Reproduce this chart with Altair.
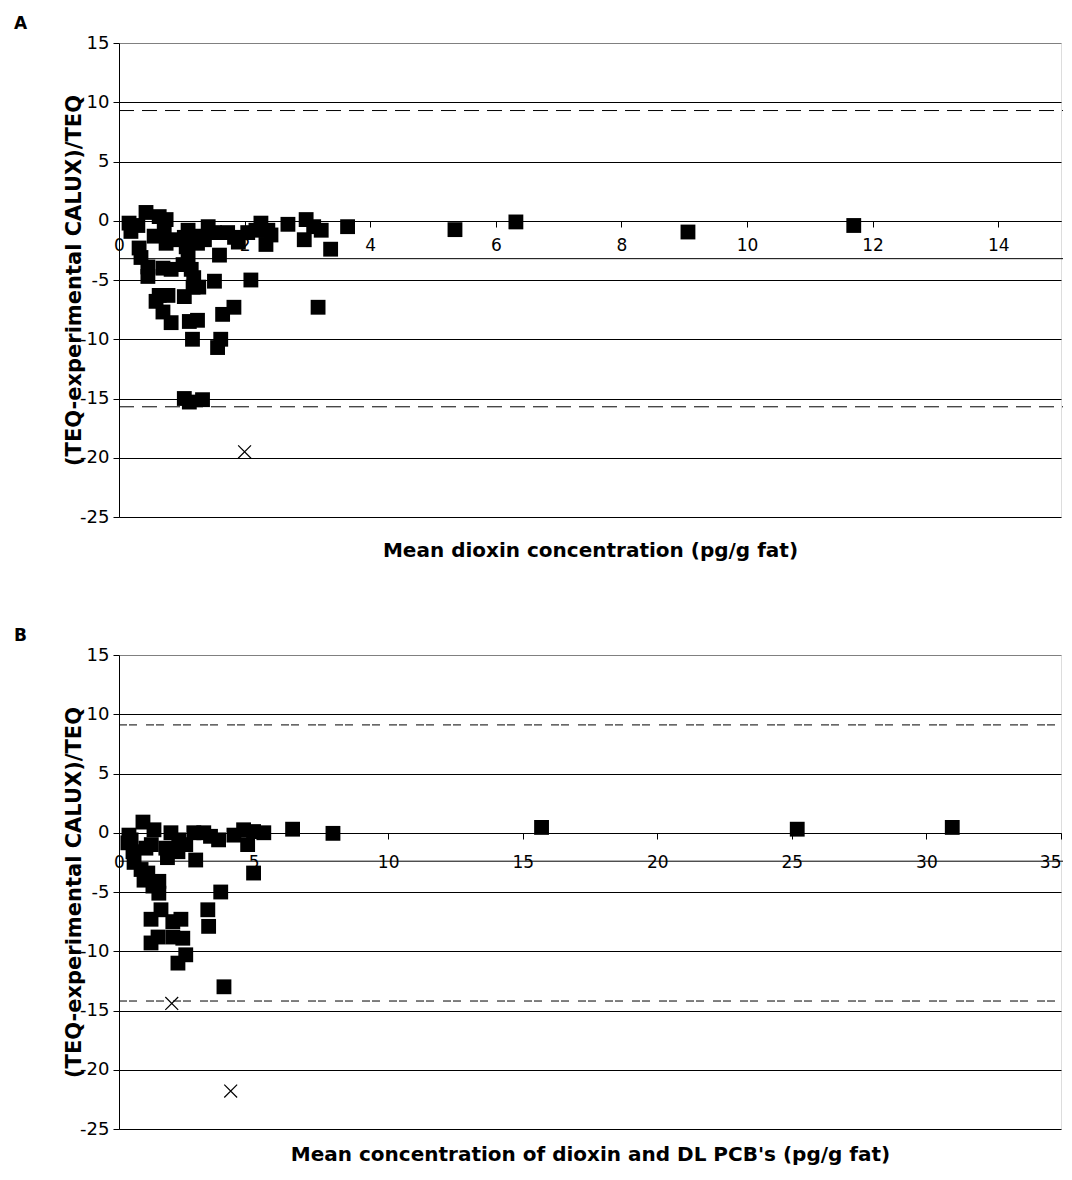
import altair as alt
import pandas as pd

# ---------------- Panel A data ----------------
A_sq_x = [0.16, 0.19, 0.43, 0.64, 0.75, 0.72, 0.56, 0.75, 0.32, 0.35, 0.46, 0.46,
          0.70, 0.83, 1.02, 1.10, 1.04, 1.07, 1.10, 1.15, 1.19, 1.27, 1.18, 0.64,
          0.78, 0.59, 0.70, 0.83, 1.04, 1.12, 1.25, 1.17, 1.57, 1.62, 1.65, 1.83,
          1.52, 2.10, 1.60, 1.42, 1.52, 1.36, 1.25, 1.73, 1.84, 1.90, 2.05, 2.18,
          2.26, 2.37, 2.42, 2.34, 2.69, 2.98, 3.10, 3.22, 2.95, 3.37, 3.64, 3.17,
          1.04, 1.12, 1.33, 5.35, 6.32, 9.06, 11.70, 0.90, 1.20, 0.30]
A_sq_y = [-0.2, -0.9, 0.7, 0.35, 0.1, -0.8, -1.3, -1.9, -2.3, -3.1, -3.9, -4.7,
          -4.0, -4.1, -3.7, -0.8, -1.4, -2.2, -2.9, -4.1, -4.8, -5.6, -5.6, -6.3,
          -6.3, -6.8, -7.7, -8.6, -6.4, -8.5, -8.4, -10.0, -10.7, -10.0, -7.9, -7.3,
          -5.1, -5.0, -2.9, -0.5, -1.0, -1.6, -1.9, -1.0, -1.4, -1.8, -1.0, -0.8,
          -0.2, -0.8, -1.2, -2.0, -0.3, 0.1, -0.5, -0.8, -1.6, -2.4, -0.5, -7.3,
          -15.0, -15.3, -15.1, -0.75, -0.1, -0.95, -0.4, -1.6, -1.3, -0.4]
A_x_x = [2.0]
A_x_y = [-19.5]
A_mean = [-3.2]
A_limits = [9.3, -15.7]
A_ticks = [0, 2, 4, 6, 8, 10, 12, 14]

# ---------------- Panel B data ----------------
B_sq_x = [0.89, 1.30, 0.37, 0.33, 0.52, 1.00, 0.56, 0.82, 0.93, 1.26, 1.48, 1.48,
          1.74, 1.80, 1.93, 2.22, 2.19, 2.48, 2.78, 2.85, 3.15, 3.70, 4.27, 4.63,
          4.78, 5.00, 5.38, 5.00, 3.78, 3.30, 3.33, 1.56, 1.19, 2.00, 2.30, 1.45,
          1.19, 2.00, 2.37, 2.48, 2.19, 3.90, 6.45, 7.95, 15.7, 25.2, 30.96,
          3.40, 1.07, 0.45, 1.20]
B_sq_y = [0.9, 0.25, -0.2, -0.85, -1.6, -1.3, -2.5, -3.1, -4.0, -4.5, -4.1, -5.1,
          -1.3, -2.1, 0.0, -0.6, -1.6, -1.0, 0.0, -2.3, 0.0, -0.6, -0.2, 0.25,
          -1.0, 0.1, 0.0, -3.4, -5.0, -6.5, -7.9, -6.5, -7.3, -7.5, -7.3, -8.8,
          -9.3, -8.8, -8.9, -10.3, -11.0, -13.0, 0.3, -0.05, 0.45, 0.3, 0.45,
          -0.3, -3.4, -0.6, -1.0]
B_x_x = [1.96, 4.15]
B_x_y = [-14.4, -21.8]
B_mean = [-2.4]
B_limits = [9.1, -14.2]
B_ticks = [0, 5, 10, 15, 20, 25, 30, 35]

W = 942
H = 474
FONT = "DejaVu Sans"
CROSS = "M-1,-1L1,1M-1,1L1,-1"


def panel(label, sx, sy, cx, cy, mean, limits, xmax, xticks, xtitle, dash, lpad,
          ty):
    sq = pd.DataFrame({"x": sx, "y": sy})
    cr = pd.DataFrame({"x": cx, "y": cy})
    mn = pd.DataFrame({"y": mean})
    lm = pd.DataFrame({"y": limits})

    X = alt.X(
        "x:Q",
        scale=alt.Scale(domain=[0, xmax], nice=False, zero=False),
        axis=alt.Axis(
            values=xticks, offset=-296, title=xtitle, titleY=ty,
            titleBaseline="middle", titleFontSize=20, titleFontWeight="bold",
            titleFont=FONT, titleColor="black", labelFont=FONT, labelFontSize=17,
            labelColor="black", labelPadding=lpad, tickSize=6, tickColor="black",
            domainColor="black", grid=False, labelFlush=False,
            labelAlign={"condition": {"test": "datum.value === 35", "value": "right"},
                        "value": "center"},
        ),
    )
    Y = alt.Y(
        "y:Q",
        scale=alt.Scale(domain=[-25, 15], nice=False),
        axis=alt.Axis(
            values=[-25, -20, -15, -10, -5, 0, 5, 10, 15],
            labelExpr="'' + datum.value",
            title="(TEQ-experimental CALUX)/TEQ", titleFontSize=21,
            titleFontWeight="bold", titleFont=FONT, titleColor="black",
            titleX=-45, titleBaseline="middle",
            labelFont=FONT, labelFontSize=18, labelColor="black",
            labelPadding=4, tickSize=6, tickColor="black", domainColor="black",
            grid=True,
            gridColor={"condition": {"test": "datum.value === 15", "value": "#808080"},
                       "value": "black"},
            gridWidth=1,
        ),
    )

    mean_rule = alt.Chart(mn).mark_rule(color="black", strokeWidth=1).encode(
        y=Y, x=alt.value(0), x2=alt.value(W + 2)
    )
    lim_rule = alt.Chart(lm).mark_rule(
        color="black", strokeWidth=1, strokeDash=dash
    ).encode(y=Y, x=alt.value(0), x2=alt.value(W + 2))
    squares = alt.Chart(sq).mark_point(
        shape="square", filled=True, size=220, color="black", opacity=1
    ).encode(x=X, y=Y)
    crosses = alt.Chart(cr).mark_point(
        shape=CROSS, filled=False, size=165, color="black", strokeWidth=1.2,
        opacity=1
    ).encode(x=X, y=Y)

    return alt.layer(mean_rule, lim_rule, squares, crosses).properties(
        width=W, height=H,
        title=alt.TitleParams(
            text=label, anchor="start", frame="group", dx=-105, offset=1,
            fontSize=17, fontWeight="bold", font=FONT, color="black",
        ),
    )


pa = panel("A", A_sq_x, A_sq_y, A_x_x, A_x_y, A_mean, A_limits, 15, A_ticks,
           "Mean dioxin concentration (pg/g fat)", [15, 8], 10, 329)
pb = panel("B", B_sq_x, B_sq_y, B_x_x, B_x_y, B_mean, B_limits, 35, B_ticks,
           "Mean concentration of dioxin and DL PCB's (pg/g fat)", [8, 2, 8, 9],
           15, 321)

chart = alt.vconcat(pa, pb, spacing=65).properties(
    padding={"left": 5, "top": 6, "right": 0, "bottom": 0}
).configure_view(stroke="#808080", strokeWidth=1).configure(background="white")

chart.save("out.html", embed_options={"renderer": "svg", "actions": False})
